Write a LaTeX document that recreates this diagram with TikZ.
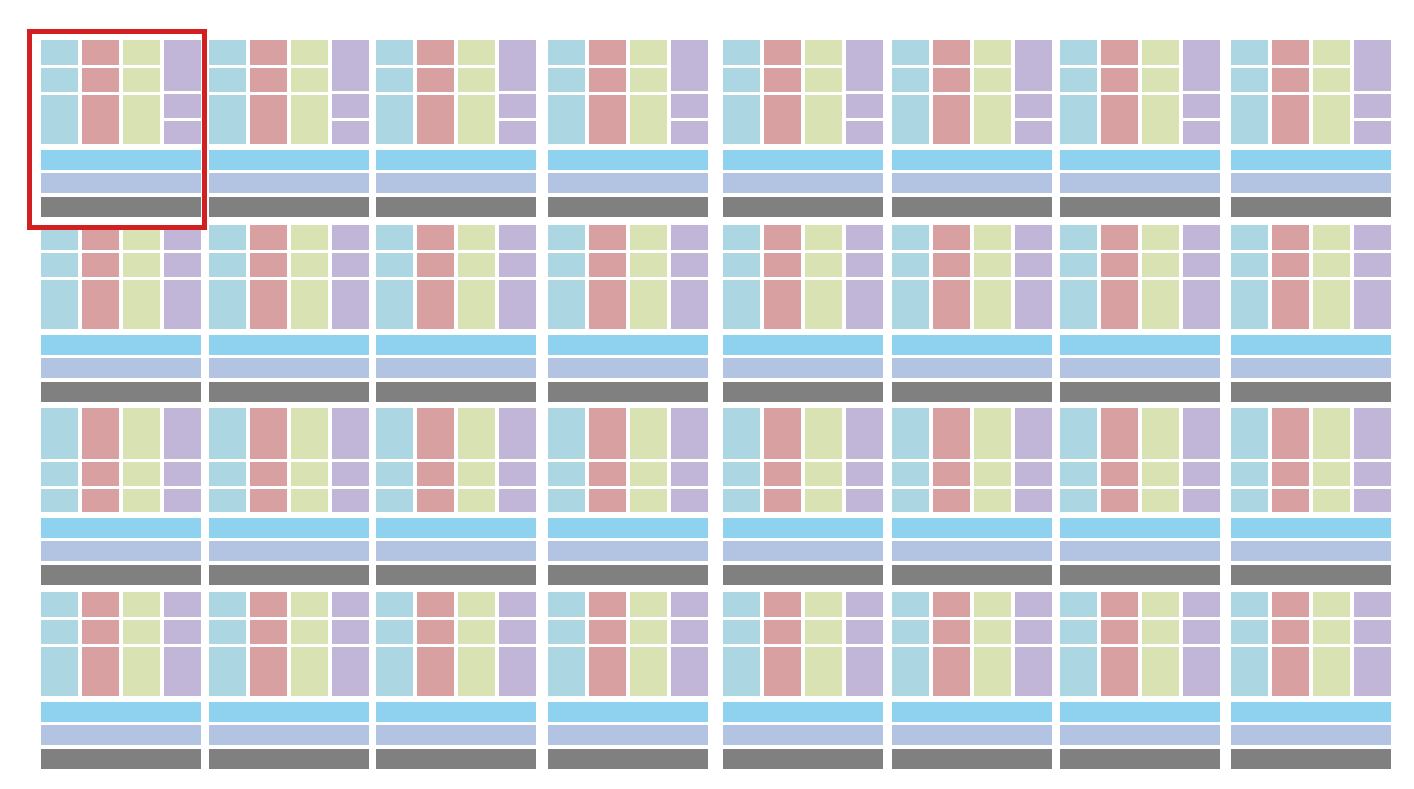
\documentclass[tikz,border=0pt]{standalone}
\usepackage{tikz}
\definecolor{cblue}{RGB}{172,214,226}
\definecolor{cred}{RGB}{216,160,160}
\definecolor{cgreen}{RGB}{216,226,178}
\definecolor{cpurple}{RGB}{194,182,216}
\definecolor{cbarA}{RGB}{142,210,240}
\definecolor{cbarB}{RGB}{178,196,226}
\definecolor{cgray}{RGB}{128,128,128}
\definecolor{cframe}{RGB}{210,32,32}
\tikzset{
  blk/.style={fill=#1},
  hilite/.style={draw=cframe, line width=5pt},
}
\begin{document}
\begin{tikzpicture}[x=1pt,y=-1pt]
\useasboundingbox[fill=white] (0,0) rectangle (1414,788);
\foreach \X in {41,209,376,548,723,892,1060,1231} {
  \foreach \Y/\a/\b/\p/\q in {40/25/52/51/78, 225/25/52/25/52, 408/51/78/51/78, 592/25/52/25/52} {
    \foreach \cx/\col in {0/cblue,41/cred,82/cgreen} {
      \fill[blk=\col] ({\X+\cx},\Y) rectangle ({\X+\cx+37},{\Y+\a});
      \fill[blk=\col] ({\X+\cx},{\Y+\a+2.5}) rectangle ({\X+\cx+37},{\Y+\b});
      \fill[blk=\col] ({\X+\cx},{\Y+\b+2.5}) rectangle ({\X+\cx+37},{\Y+104});
    }
    \fill[blk=cpurple] ({\X+123},\Y) rectangle ({\X+160},{\Y+\p});
    \fill[blk=cpurple] ({\X+123},{\Y+\p+2.5}) rectangle ({\X+160},{\Y+\q});
    \fill[blk=cpurple] ({\X+123},{\Y+\q+2.5}) rectangle ({\X+160},{\Y+104});
    \fill[blk=cbarA] (\X,{\Y+110}) rectangle ({\X+160},{\Y+130});
    \fill[blk=cbarB] (\X,{\Y+133}) rectangle ({\X+160},{\Y+153});
    \fill[blk=cgray] (\X,{\Y+157}) rectangle ({\X+160},{\Y+177});
  }
}
\draw[hilite] (29.5,31.5) rectangle (204.5,227.5);
\end{tikzpicture}
\end{document}
